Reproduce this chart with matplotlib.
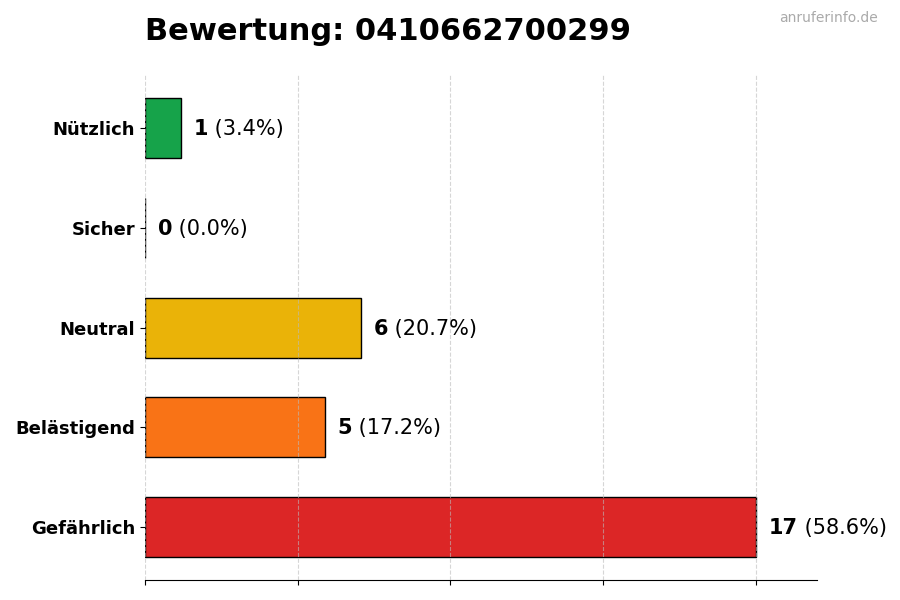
import matplotlib
matplotlib.use("Agg")
import matplotlib.pyplot as plt
import numpy as np

# data (bottom to top)
categories = ["Gefährlich", "Belästigend", "Neutral", "Sicher", "Nützlich"]
counts = [17, 5, 6, 0, 1]
colors = ["#dc2626", "#f97316", "#eab308", "#16a34a", "#16a34a"]
title = "Bewertung: 0410662700299"

total = sum(counts)
vmax = max(counts)

fig = plt.figure(figsize=(9, 6), dpi=100)
ax = fig.add_axes([0.161, 0.033, 0.747, 0.842])

y = np.arange(len(categories))
ax.barh(y, counts, height=0.6, color=colors, edgecolor="black", linewidth=1, zorder=2)

ax.set_yticks(y)
ax.set_yticklabels(categories, fontsize=13, fontweight="bold")
ax.set_xlim(0, vmax * 1.1)
ax.set_xticks(np.linspace(0, vmax, 5))
ax.set_xticklabels([])
ax.grid(axis="x", linestyle="--", color="#bbbbbb", alpha=0.6, zorder=3)
ax.set_axisbelow(False)

for s in ["top", "right", "left"]:
    ax.spines[s].set_visible(False)

# value labels
off = vmax * 0.021
for yi, c in zip(y, counts):
    pct = c / total * 100
    t = ax.text(c + off, yi - 0.01, f"{c}", fontsize=15, fontweight="bold", va="center", ha="left", zorder=4)
    fig.canvas.draw()
    bb = t.get_window_extent().transformed(ax.transData.inverted())
    ax.text(bb.x1, yi - 0.01, f" ({pct:.1f}%)", fontsize=15, va="center", ha="left", zorder=4)

fig.text(0.161, 0.948, title, fontsize=22, fontweight="bold", ha="left", va="center")
fig.text(0.975, 0.97, "anruferinfo.de", fontsize=10, color="#aaaaaa", ha="right", va="center")

fig.savefig("out.png", dpi=100)
